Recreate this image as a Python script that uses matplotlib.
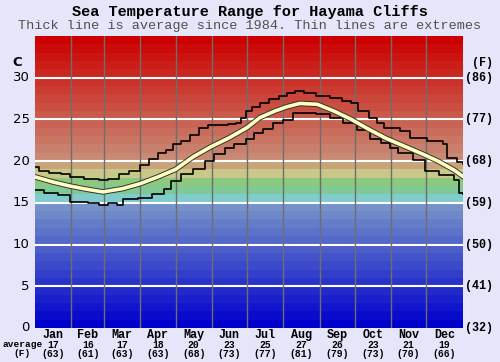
import matplotlib
matplotlib.use('Agg')
import matplotlib.pyplot as plt
import matplotlib.patheffects as pe
import numpy as np

# --- data (day of year -> sea temperature, C) ---
avg_days = [0, 15, 30, 45, 58, 75, 90, 105, 120, 135, 150, 166, 181, 192, 205,
            215, 226, 241, 255, 270, 285, 300, 315, 330, 344, 358, 365]
avg_vals = [18.1, 17.5, 17.0, 16.6, 16.3, 16.7, 17.3, 18.1, 19.0, 20.5, 21.7, 22.8,
            24.0, 25.2, 26.0, 26.5, 26.9, 26.8, 26.0, 25.0, 23.8, 22.7, 21.8, 20.9,
            20.0, 18.9, 18.2]

max_days = [0, 3, 12, 22, 30, 42, 55, 62, 72, 80, 90, 97, 105, 112, 118, 125, 132,
            140, 148, 165, 172, 176, 180, 185, 192, 200, 208, 215, 222, 230, 240,
            252, 262, 270, 276, 285, 292, 298, 312, 320, 335, 348, 352, 360, 365]
max_vals = [19.3, 18.8, 18.6, 18.4, 18.1, 17.9, 17.7, 17.9, 18.4, 18.8, 19.5, 20.3,
            21.0, 21.3, 22.0, 22.4, 23.1, 23.9, 24.3, 24.4, 24.6, 25.2, 26.0, 26.5,
            27.0, 27.4, 27.8, 28.1, 28.4, 28.1, 27.8, 27.6, 27.2, 26.9, 26.0, 25.2,
            24.6, 24.0, 23.6, 22.8, 22.4, 22.1, 20.4, 19.9, 19.6]

min_days = [0, 8, 20, 30, 45, 55, 62, 70, 75, 88, 100, 110, 116, 125, 135, 145, 153,
            162, 170, 180, 187, 195, 203, 212, 220, 240, 252, 263, 275, 286, 295,
            303, 310, 323, 333, 345, 358, 362, 365]
min_vals = [16.5, 16.2, 15.9, 15.1, 15.0, 14.7, 15.0, 14.7, 15.5, 15.6, 16.1, 16.7,
            17.6, 18.4, 19.1, 20.0, 20.9, 21.6, 22.0, 22.6, 23.3, 23.8, 24.5, 24.9,
            25.7, 25.6, 25.2, 24.5, 23.7, 22.7, 22.2, 21.6, 21.0, 20.1, 18.8, 18.3,
            17.7, 16.2, 16.1]

months = ['Jan', 'Feb', 'Mar', 'Apr', 'May', 'Jun', 'Jul', 'Aug', 'Sep', 'Oct', 'Nov', 'Dec']
month_avg_c = ['17', '16', '17', '18', '20', '23', '25', '27', '26', '23', '21', '19']
month_avg_f = ['(63)', '(61)', '(63)', '(63)', '(68)', '(73)', '(77)', '(81)', '(79)',
               '(73)', '(70)', '(66)']
month_lengths = [31, 28, 31, 30, 31, 30, 31, 31, 30, 31, 30, 31]
c_ticks = [0, 5, 10, 15, 20, 25, 30]
f_labels = ['(32)', '(41)', '(50)', '(59)', '(68)', '(77)', '(86)']

BG = '#e6e6fa'
mono = 'Liberation Mono'

fig = plt.figure(figsize=(5, 3.62), dpi=100)
fig.patch.set_facecolor(BG)
ax = fig.add_axes([0.07, 0.094, 0.855, 0.807])
ax.set_xlim(0, 365)
ax.set_ylim(0, 35)

# background colour bands, one per degree
anchors_t = [0, 14, 15, 16, 17, 18, 19, 20, 34]
anchors_c = np.array([(0, 0, 204), (118, 146, 200), (128, 204, 204), (128, 200, 150),
                      (140, 200, 128), (200, 200, 136), (200, 164, 120),
                      (200, 138, 116), (204, 0, 0)]) / 255.0
for t in range(35):
    col = [np.interp(t, anchors_t, anchors_c[:, k]) for k in range(3)]
    ax.axhspan(t, t + 1, color=col, lw=0, zorder=0)

# grid
for t in c_ticks[1:]:
    ax.axhline(t, color='white', lw=1.5, zorder=1)
bounds = np.cumsum(month_lengths)[:-1]
for b in bounds:
    ax.axvline(b, color='#6e6e6e', lw=1, zorder=1)

# extremes and average
ax.plot(max_days, max_vals, color='black', lw=1.2, drawstyle='steps-post', zorder=3)
ax.plot(min_days, min_vals, color='black', lw=1.2, drawstyle='steps-post', zorder=3)
ax.plot(avg_days, avg_vals, color='#ffffc0', lw=2.6, zorder=4,
        path_effects=[pe.Stroke(linewidth=4.0, foreground='#333333'), pe.Normal()])

for s in ax.spines.values():
    s.set_visible(False)
ax.set_xticks([])
ax.set_yticks([])

# left axis labels (C)
for t in c_ticks:
    ax.text(-4.5, t, str(t), ha='right', va='center', fontsize=9.5,
            family='DejaVu Sans', color='black', clip_on=False)
ax.text(-11, 31.8, 'C', ha='right', va='center', fontsize=9.5, fontweight='bold',
        family='DejaVu Sans', clip_on=False)

# right axis labels (F)
for t, lab in zip(c_ticks, f_labels):
    ax.text(367, t, lab, ha='left', va='center', fontsize=8.5, fontweight='bold',
            family=mono, clip_on=False)
ax.text(373, 31.8, '(F)', ha='left', va='center', fontsize=8.5, fontweight='bold',
        family=mono, clip_on=False)

# month labels
starts = np.concatenate([[0], bounds])
for i, m in enumerate(months):
    xc = starts[i] + month_lengths[i] / 2
    ax.text(xc, -0.85, m, ha='center', va='center', fontsize=8.5, fontweight='bold',
            family=mono, clip_on=False)
    ax.text(xc, -2.0, month_avg_c[i], ha='center', va='center', fontsize=7,
            fontweight='bold', family=mono, clip_on=False)
    ax.text(xc, -3.1, month_avg_f[i], ha='center', va='center', fontsize=7,
            fontweight='bold', family=mono, clip_on=False)
ax.text(-10.5, -2.0, 'average', ha='center', va='center', fontsize=6.8, fontweight='bold',
        family=mono, clip_on=False)
ax.text(-11, -3.1, '(F)', ha='center', va='center', fontsize=6.8, fontweight='bold',
        family=mono, clip_on=False)

fig.text(0.5, 0.968, 'Sea Temperature Range for Hayama Cliffs', ha='center',
         va='center', fontsize=11, fontweight='bold', family=mono)
fig.text(0.5, 0.929, 'Thick line is average since 1984. Thin lines are extremes',
         ha='center', va='center', fontsize=9.7, family=mono, color='#505050')

fig.savefig('out.png', dpi=100, facecolor=BG)
